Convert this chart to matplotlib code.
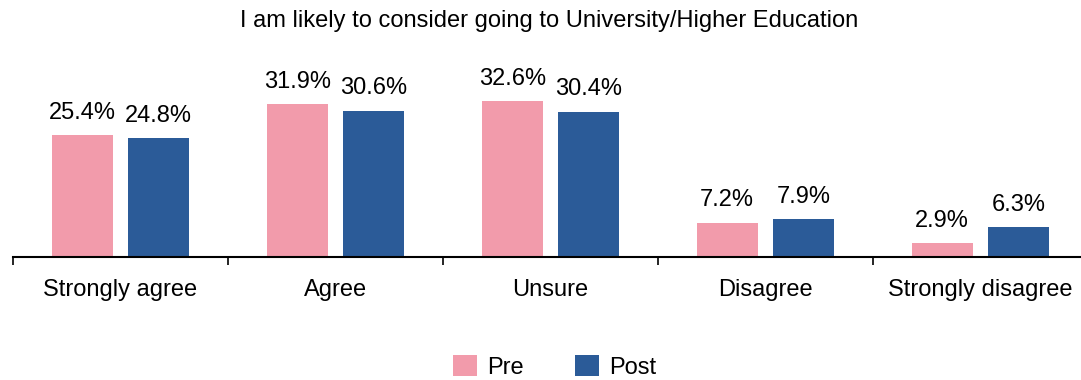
import numpy as np
import matplotlib.pyplot as plt

categories = ['Strongly agree', 'Agree', 'Unsure', 'Disagree', 'Strongly disagree']
pre = [25.4, 31.9, 32.6, 7.2, 2.9]
post = [24.8, 30.6, 30.4, 7.9, 6.3]
series = ['Pre', 'Post']
colors = ['#F29BAB', '#2B5B98']

plt.rcParams['font.family'] = ['Liberation Sans', 'DejaVu Sans']

fig = plt.figure(figsize=(10.81, 3.80), dpi=100)
# axis runs off the right edge, as in the original
ax = fig.add_axes([0.01175, 0.3237, 0.9945, 0.4408])

x = np.arange(len(categories))
w = 0.284
off = 0.177
b1 = ax.bar(x - off, pre, w, color=colors[0], label=series[0])
b2 = ax.bar(x + off, post, w, color=colors[1], label=series[1])

for bars, vals in [(b1, pre), (b2, post)]:
    for b, v in zip(bars, vals):
        ax.annotate(f'{v}%', (b.get_x() + b.get_width() / 2, v),
                    xytext=(0, 8), textcoords='offset points',
                    ha='center', va='bottom', fontsize=17)

ax.set_xlim(-0.5, len(categories) - 0.5)
ax.set_ylim(0, 35)
ax.set_xticks(np.arange(-0.5, len(categories)), labels=[])
ax.set_xticks(x, labels=categories, minor=True)
ax.tick_params(axis='x', which='major', length=6, width=1.2, direction='out')
ax.tick_params(axis='x', which='minor', length=0, labelsize=17, pad=15.5)
ax.set_yticks([])
for s in ['top', 'right', 'left']:
    ax.spines[s].set_visible(False)
ax.spines['bottom'].set_linewidth(1.5)
ax.spines['bottom'].set_clip_on(False)

fig.text(0.5083, 0.945, 'I am likely to consider going to University/Higher Education',
         fontsize=17, ha='center', va='center')

fig.legend(loc='center', bbox_to_anchor=(0.513, 0.034), ncol=2, frameon=False,
           fontsize=17, handlelength=1.0, handleheight=1.0, columnspacing=2.2,
           handletextpad=0.42, borderaxespad=0)

fig.savefig('out.png', dpi=100)
